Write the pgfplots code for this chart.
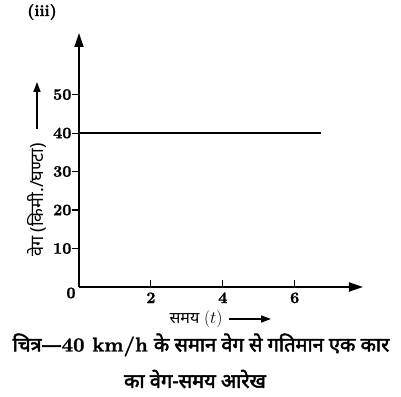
\documentclass[border=0pt]{standalone}
\usepackage{pgfplots}
\pgfplotsset{compat=1.18}
\usetikzlibrary{arrows.meta}
\usepackage{fontspec}
\newfontfamily\dev[Script=Devanagari]{Noto Sans}
\newfontfamily\devb[Script=Devanagari, FakeBold=2.5]{Noto Sans}
\newfontfamily\lmb[FakeBold=1.2]{lmroman10-bold.otf}
\begin{document}
\begin{tikzpicture}
\useasboundingbox (0,0) rectangle (401pt,396pt);
\begin{axis}[
  at={(79pt,109pt)}, anchor=south west,
  scale only axis, width=284pt, height=254pt,
  xmin=0, xmax=7.9, ymin=0, ymax=66,
  axis lines=left,
  axis line style={line width=1.9pt, -{Triangle[length=14pt,width=9pt]}},
  tick align=inside,
  xtick={2,4,6}, ytick={10,20,30,40,50},
  major tick length=7pt,
  tick style={line width=1.1pt, black},
  ytick style={xshift=-7pt},
  yticklabel style={xshift=-4pt},
  xticklabel style={yshift=-2pt},
  /pgf/number format/assume math mode=true,
  ticklabel style={font=\lmb\fontsize{16}{19}\selectfont},
  clip=false,
]
\addplot[black, line width=1.8pt] coordinates {(0,40) (6.72,40)};
\node[font=\lmb\fontsize{16}{19}\selectfont] at (axis cs:0,0) [xshift=-8pt,yshift=-6pt] {0};
\end{axis}
\node[font=\lmb\fontsize{16}{19}\selectfont] at (42pt,384pt) {(iii)};
\node[rotate=90, font=\dev\fontsize{18}{21}\selectfont] at (37pt,196pt) {वेग (किमी./घण्टा)};
\draw[line width=1.5pt, -{Triangle[length=10pt,width=7pt]}] (37pt,267pt) -- (37pt,314pt);
\node[font=\fontsize{16}{19}\selectfont, anchor=east] at (226pt,77pt) {{\dev समय} $(t)$};
\draw[line width=1.5pt, -{Triangle[length=10pt,width=7pt]}] (229pt,77pt) -- (271pt,77pt);
\node[font=\fontsize{20}{23}\selectfont] at (201pt,51pt) {{\devb चित्र—}{\lmb 40 km/h} {\devb के समान वेग से गतिमान एक कार}};
\node[font=\fontsize{20}{23}\selectfont] at (195pt,17pt) {\devb का वेग-समय आरेख};
\end{tikzpicture}
\end{document}
